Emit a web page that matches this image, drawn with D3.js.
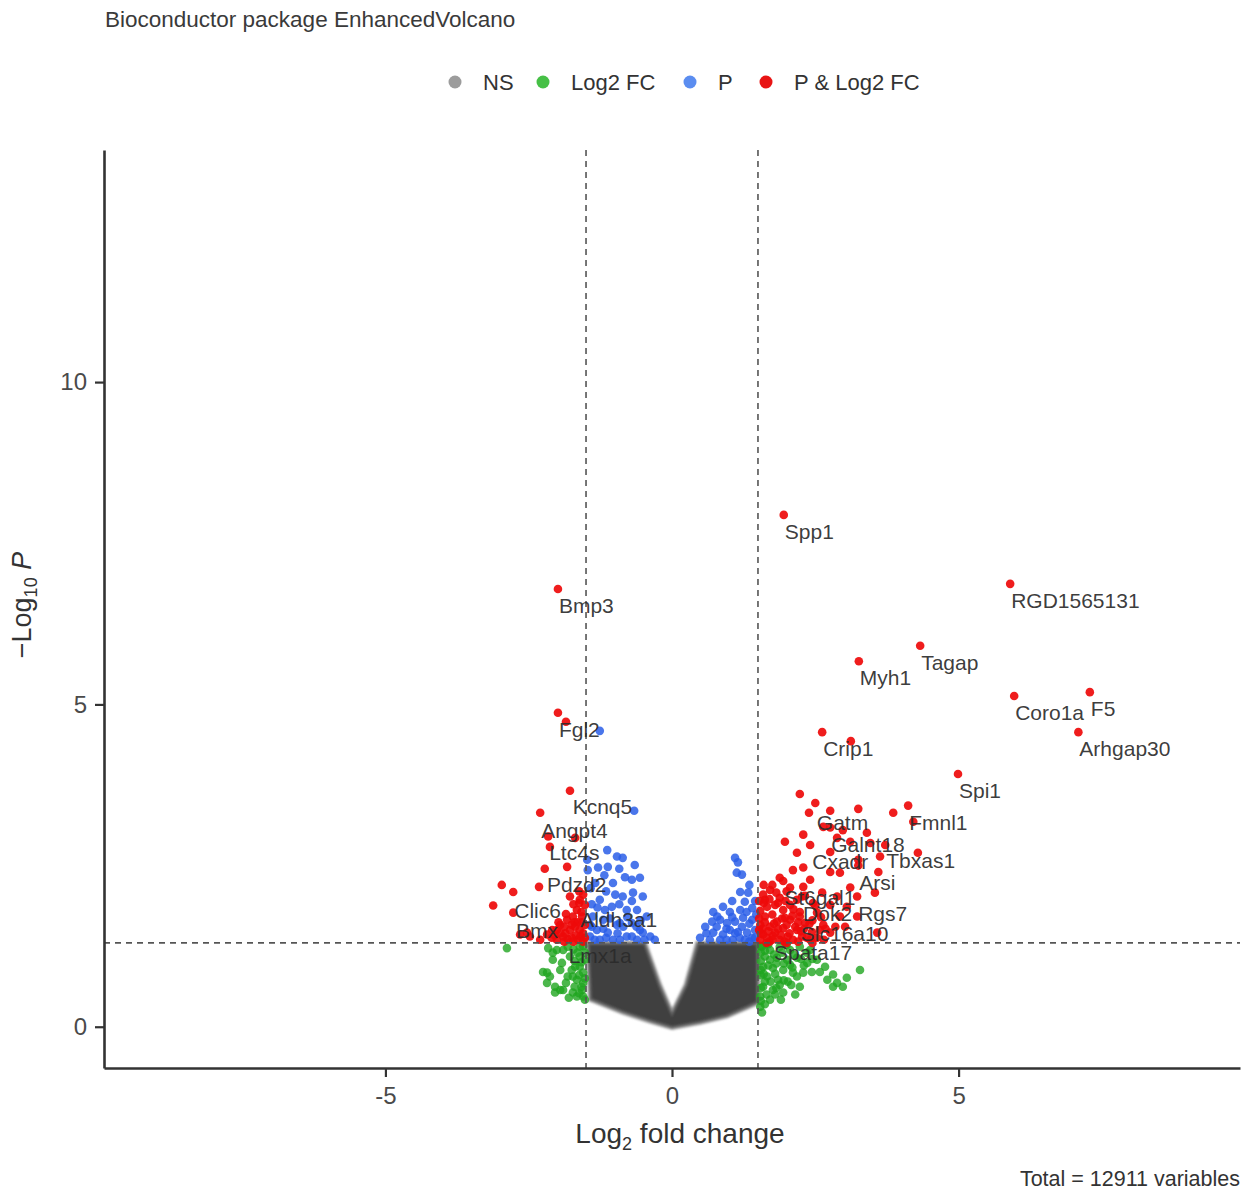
<!DOCTYPE html>
<html>
<head>
<meta charset="utf-8">
<script src="https://cdn.jsdelivr.net/npm/d3@7"></script>
<style>
  body { margin: 0; background: #ffffff; }
  svg text { font-family: "Liberation Sans", Arial, Helvetica, sans-serif; }
</style>
</head>
<body>
<svg id="chart" width="1258" height="1193"></svg>
<script>
// ---- data -------------------------------------------------------------
const xTicks = [-5, 0, 5];
const yTicks = [0, 5, 10];
const fcCutoff = 1.5;          // |log2 fold change| threshold
const pCutoff = 0.05;          // p-value threshold
const totalVariables = 12911;
const legendKeys = ["NS", "Log2 FC", "P", "P & Log2 FC"];

// outline of the dense non-significant cloud [log2FC, -log10 P]
const nsEnvelope = [
  [-1.47, 1.30], [-0.47, 1.30], [-0.21, 0.65], [0.00, 0.22], [0.24, 0.65],
  [0.44, 1.30], [1.50, 1.30], [1.50, 0.37], [0.96, 0.16], [0.49, 0.06],
  [0.00, -0.02], [-0.38, 0.08], [-0.86, 0.22], [-1.43, 0.42]
];

// |log2FC| > 1.5 but P not significant
const log2fcOnly = [
  [-2.88, 1.22], [-2.25, 0.85], [-2.13, 0.78], [-2.18, 0.68], [-2.04, 0.62],
  [-1.95, 0.88], [-1.90, 1.19], [-1.78, 1.09], [-1.69, 0.93], [-1.61, 1.09],
  [-1.82, 0.78], [-1.66, 0.73], [-1.55, 0.84], [-1.90, 0.57], [-1.73, 0.53],
  [-1.57, 0.57], [-2.01, 1.19], [-1.82, 1.24], [-1.61, 1.24], [-1.92, 0.99],
  [-1.55, 0.47], [-2.04, 0.53], [-2.16, 1.22], [-2.08, 1.04], [-2.08, 1.15],
  [-2.18, 0.84], [-1.95, 0.57], [-1.66, 0.47], [-1.73, 0.78], [-1.55, 0.68],
  [-1.61, 0.93], [-1.52, 0.42], [-1.52, 1.04],
  [-1.55, 1.25], [-1.65, 1.15], [-1.72, 1.20], [-1.58, 1.00], [-1.70, 1.02],
  [-1.62, 0.80], [-1.75, 0.88], [-1.58, 0.62], [-1.70, 0.62], [-1.85, 0.68],
  [-1.62, 0.52], [-1.80, 0.45], [-1.52, 0.75], [-1.52, 1.15],
  [1.57, 1.24], [1.71, 1.19], [1.88, 1.24], [2.06, 1.19], [2.23, 1.24],
  [2.41, 1.19], [1.62, 1.09], [1.83, 1.07], [2.01, 1.04], [2.18, 1.07],
  [2.36, 0.99], [2.53, 1.04], [1.59, 0.93], [1.76, 0.91], [1.94, 0.88],
  [2.11, 0.84], [2.29, 0.84], [1.66, 0.78], [1.85, 0.73], [2.02, 0.70],
  [2.23, 0.62], [1.59, 0.62], [1.76, 0.57], [1.94, 0.53], [2.15, 0.50],
  [1.54, 0.47], [1.71, 0.42], [1.54, 0.31], [2.44, 0.85], [2.58, 0.85],
  [2.81, 0.81], [3.05, 0.76], [3.28, 0.88], [2.88, 0.68], [2.98, 0.62],
  [2.71, 0.73], [2.81, 0.62], [2.18, 0.78], [2.67, 0.93], [1.57, 0.22],
  [1.80, 0.50], [1.71, 1.04], [1.88, 0.65], [2.06, 0.96], [1.55, 1.15],
  [1.55, 0.80],
  [1.55, 1.25], [1.62, 1.18], [1.68, 1.28], [1.78, 1.12], [1.92, 1.15],
  [2.00, 1.27], [2.12, 1.12], [2.25, 1.05], [1.55, 1.02], [1.68, 0.95],
  [1.82, 0.98], [1.95, 0.98], [2.10, 0.92], [1.55, 0.88], [1.62, 0.70],
  [1.72, 0.70], [1.80, 0.82], [1.95, 0.72], [2.08, 0.65], [1.55, 0.60],
  [1.65, 0.50], [1.82, 0.60], [1.90, 0.42], [1.55, 0.40], [1.62, 0.35],
  [1.60, 0.82], [2.35, 1.15], [2.45, 1.05], [2.30, 0.95]
];

// P significant but |log2FC| <= 1.5
const pOnly = [
  [-1.26, 4.59], [-0.66, 3.35], [-1.13, 2.74], [-0.96, 2.64], [-1.29, 2.47],
  [-1.12, 2.48], [-0.86, 2.62], [-0.65, 2.51], [-0.70, 2.28], [-0.56, 2.31],
  [-1.34, 2.23], [-1.03, 2.23], [-0.86, 2.02], [-0.68, 2.08], [-0.51, 2.02],
  [-1.26, 1.97], [-1.05, 1.86], [-0.79, 1.81], [-0.61, 1.81], [-0.44, 1.71],
  [-1.38, 1.71], [-1.20, 1.66], [-0.91, 1.61], [-0.70, 1.61], [-0.51, 1.46],
  [-1.31, 1.50], [-1.12, 1.46], [-0.79, 1.40], [-1.43, 1.40], [-0.61, 1.35],
  [-0.38, 1.40], [-1.03, 1.35], [-1.26, 1.35], [-1.48, 2.59], [-1.47, 2.43],
  [-0.96, 1.58], [-1.17, 1.81], [-1.43, 1.58], [-0.30, 1.35], [-0.91, 1.35],
  [-0.56, 1.50], [-0.99, 2.05], [-1.40, 1.90], [-1.15, 2.10],
  [-1.35, 1.35], [-1.15, 1.38], [-0.95, 1.45], [-0.70, 1.40], [-0.48, 1.35],
  [-1.20, 1.52], [-0.85, 1.55], [-0.62, 1.55], [-1.08, 1.68], [-0.78, 1.70],
  [-0.55, 1.65], [-1.30, 1.85], [-0.92, 1.90], [-0.70, 1.95], [-1.40, 1.55],
  [-1.42, 2.15], [-1.18, 2.35], [-0.82, 2.32], [-0.92, 2.45],
  [1.10, 2.62], [1.13, 2.39], [1.22, 2.36], [1.19, 2.09], [1.33, 2.08],
  [1.27, 1.94], [0.72, 1.78], [0.89, 1.86], [1.01, 1.78], [1.19, 1.81],
  [1.40, 1.84], [0.58, 1.55], [0.70, 1.63], [0.84, 1.66], [0.96, 1.61],
  [1.10, 1.63], [1.24, 1.69], [1.40, 1.66], [0.72, 1.46], [0.89, 1.43],
  [1.01, 1.50], [1.15, 1.47], [1.31, 1.46], [1.45, 1.50], [0.66, 1.35],
  [0.84, 1.35], [1.06, 1.35], [1.27, 1.35], [1.40, 1.38], [0.79, 1.71],
  [1.47, 1.74], [0.49, 1.38],
  [0.60, 1.45], [0.78, 1.55], [0.95, 1.52], [1.10, 1.45], [1.22, 1.55],
  [1.35, 1.60], [0.95, 1.35], [1.18, 1.38], [1.35, 1.32], [1.45, 1.38],
  [1.05, 1.70], [1.30, 1.78], [1.45, 1.95], [1.05, 1.95], [1.35, 2.20],
  [1.15, 2.55]
];

// P significant and |log2FC| > 1.5
const pAndLog2fc = [
  [-1.99, 6.79], [-1.99, 4.87], [-1.85, 4.73], [-1.78, 3.66], [-2.30, 3.32],
  [-2.16, 2.95], [-1.69, 2.93], [-2.13, 2.79], [-2.22, 2.45], [-1.83, 2.48],
  [-2.97, 2.20], [-2.77, 2.09], [-2.32, 2.17], [-3.12, 1.88], [-2.77, 1.77],
  [-2.53, 1.46], [-1.78, 2.02], [-1.61, 1.97], [-1.66, 1.81], [-1.83, 1.66],
  [-1.95, 1.58], [-1.69, 1.55], [-1.61, 1.50], [-1.90, 1.40], [-1.64, 1.35],
  [-2.18, 1.43], [-2.09, 1.50], [-1.57, 1.71], [-1.73, 1.71], [-1.62, 1.92],
  [-1.82, 1.36], [-1.52, 1.89], [-1.52, 1.58], [-1.52, 1.38], [-1.78, 1.50],
  [-2.01, 1.35], [-2.30, 1.35], [-2.48, 1.40], [-2.65, 1.43], [-2.01, 1.50],
  [-1.57, 1.62], [-1.70, 1.62],
  [-1.55, 1.45], [-1.60, 1.40], [-1.68, 1.42], [-1.75, 1.38], [-1.86, 1.45],
  [-1.58, 1.78], [-1.65, 1.62], [-1.75, 1.58], [-1.88, 1.55], [-1.55, 2.05],
  [-1.62, 2.10], [-1.72, 1.90], [-1.85, 1.75], [-1.95, 1.45], [-2.05, 1.42],
  [-2.10, 1.38], [-1.98, 1.62], [-1.55, 1.32], [-1.72, 1.32], [-1.88, 1.32],
  [1.95, 7.94], [5.90, 6.87], [4.33, 5.91], [3.26, 5.67], [5.97, 5.13],
  [7.29, 5.19], [7.09, 4.57], [2.62, 4.57], [3.12, 4.43], [4.99, 3.92],
  [2.23, 3.61], [2.50, 3.47], [2.39, 3.32], [2.76, 3.35], [3.25, 3.38],
  [3.86, 3.32], [4.12, 3.43], [2.64, 3.10], [2.98, 3.05], [3.40, 3.01],
  [4.21, 3.18], [1.97, 2.87], [2.29, 2.98], [2.41, 2.82], [2.88, 2.93],
  [3.11, 2.87], [3.46, 2.85], [3.72, 2.82], [4.29, 2.70], [2.18, 2.70],
  [2.76, 2.71], [3.25, 2.59], [3.63, 2.64], [2.11, 2.43], [2.29, 2.47],
  [1.88, 2.31], [2.41, 2.28], [2.76, 2.40], [2.93, 2.39], [3.60, 2.40],
  [1.75, 2.20], [2.06, 2.16], [2.29, 2.17], [3.11, 2.16], [2.62, 2.08],
  [2.88, 2.02], [3.54, 2.08], [1.59, 2.05], [1.88, 2.00], [2.18, 1.97],
  [2.46, 1.92], [2.76, 1.89], [3.05, 1.86], [1.66, 1.86], [1.94, 1.81],
  [2.23, 1.78], [2.53, 1.77], [2.93, 1.71], [3.23, 1.71], [1.62, 1.71],
  [1.83, 1.63], [2.06, 1.66], [2.32, 1.61], [2.64, 1.58], [1.71, 1.55],
  [1.94, 1.53], [2.18, 1.50], [2.44, 1.47], [2.76, 1.46], [3.02, 1.55],
  [3.58, 1.46], [1.59, 1.43], [1.80, 1.46], [2.02, 1.40], [2.27, 1.40],
  [2.53, 1.38], [1.66, 1.38], [1.88, 1.35], [2.11, 1.35], [1.54, 1.58],
  [1.75, 1.74], [1.97, 1.69], [2.15, 1.55], [1.54, 1.35], [2.41, 1.35],
  [2.58, 1.50], [1.62, 1.97], [1.80, 1.89], [2.06, 1.89], [2.32, 2.03],
  [1.71, 2.12], [2.76, 3.09], [3.25, 2.50], [1.94, 2.26], [2.27, 2.02],
  [3.23, 2.02], [2.23, 1.71], [1.76, 1.41], [1.54, 1.80], [1.58, 1.52],
  [1.70, 1.32], [1.96, 1.32], [2.40, 1.60],
  [1.55, 1.45], [1.62, 1.62], [1.68, 1.48], [1.75, 1.35], [1.78, 1.60],
  [1.85, 1.52], [1.90, 1.42], [1.92, 1.68], [2.00, 1.58], [2.05, 1.45],
  [2.10, 1.72], [2.20, 1.62], [2.25, 1.48], [2.35, 1.38], [2.30, 1.52],
  [1.60, 1.92], [1.70, 1.98], [1.85, 1.92], [1.98, 1.95], [2.12, 1.82],
  [1.52, 1.50], [1.52, 1.68], [1.52, 1.95], [1.60, 2.20], [1.82, 2.08],
  [2.00, 2.10], [2.45, 1.65], [2.60, 1.70], [2.68, 1.52], [2.85, 1.55],
  [2.50, 1.88], [1.65, 1.30], [2.00, 1.30], [2.20, 1.32], [2.45, 1.30],
  [2.65, 1.35]
];

// labelled genes [log2FC, -log10 P]
const geneNames = ["Spp1", "RGD1565131", "Tagap", "Myh1", "Coro1a", "F5", "Arhgap30",
  "Crip1", "Spi1", "Bmp3", "Fgl2", "Gatm", "Galnt18", "Fmnl1", "Cxadr", "Tbxas1",
  "Arsi", "St6gal1", "Dok2", "Rgs7", "Slc16a10", "Spata17", "Kcnq5", "Angpt4",
  "Ltc4s", "Pdzd2", "Clic6", "Bmx", "Aldh3a1", "Lmx1a"];
const geneX = [1.95, 5.90, 4.33, 3.26, 5.97, 7.29, 7.09, 2.62, 4.99, -1.99, -1.99,
  2.51, 2.76, 4.12, 2.43, 3.72, 3.25, 1.94, 2.27, 3.23, 2.23, 1.76, -1.75, -2.30,
  -2.16, -2.20, -2.77, -2.74, -1.62, -1.82];
const geneY = [7.94, 6.87, 5.91, 5.67, 5.13, 5.19, 4.57, 4.57, 3.92, 6.79, 4.87,
  3.43, 3.09, 3.43, 2.82, 2.84, 2.50, 2.26, 2.02, 2.02, 1.71, 1.41, 3.67, 3.30,
  2.96, 2.47, 2.06, 1.75, 1.92, 1.36];

// ---- layout -------------------------------------------------------------
const svg = d3.select("#chart");
const x = d3.scaleLinear().domain([-9.91, 9.91]).range([104, 1240]);
const y = d3.scaleLinear().domain([-0.64, 13.6]).range([1068, 150]);

const colours = {
  "NS": "#404040",
  "Log2 FC": "#1fa51f",
  "P": "#2a5ee8",
  "P & Log2 FC": "#ee0a0a"
};
const legendColours = ["#9c9c9c", "#46c046", "#5b8df0", "#e81414"];

// title
svg.append("text")
  .attr("x", 105).attr("y", 27)
  .attr("font-size", 22.5).attr("fill", "#3a3a3a")
  .text("Bioconductor package EnhancedVolcano");

// legend
const legendX = [455, 543, 690, 766];
const legend = svg.append("g").attr("class", "legend");
legendKeys.forEach((k, i) => {
  legend.append("circle")
    .attr("cx", legendX[i]).attr("cy", 82).attr("r", 6.5)
    .attr("fill", legendColours[i]);
  legend.append("text")
    .attr("x", legendX[i] + 28).attr("y", 89.5)
    .attr("font-size", 22).attr("fill", "#333")
    .text(k);
});

// soft-edge filter for the dense cloud
const defs = svg.append("defs");
defs.append("filter").attr("id", "soft")
  .append("feGaussianBlur").attr("stdDeviation", 1.2);

const plot = svg.append("g");

// non-significant cloud
plot.append("path")
  .datum(nsEnvelope)
  .attr("d", d3.line().x(d => x(d[0])).y(d => y(d[1])).curve(d3.curveLinearClosed))
  .attr("fill", colours["NS"])
  .attr("stroke", "#6a6a6a").attr("stroke-width", 4).attr("stroke-opacity", 0.7)
  .attr("filter", "url(#soft)");

function drawPoints(data, colour, opacity) {
  plot.append("g").selectAll("circle").data(data).join("circle")
    .attr("cx", d => x(d[0])).attr("cy", d => y(d[1]))
    .attr("r", 4.3)
    .attr("fill", colour).attr("fill-opacity", opacity);
}
drawPoints(log2fcOnly, colours["Log2 FC"], 0.8);
drawPoints(pOnly, colours["P"], 0.85);
drawPoints(pAndLog2fc, colours["P & Log2 FC"], 0.92);

// cut-off lines
const dash = "6,5";
[-fcCutoff, fcCutoff].forEach(v => {
  plot.append("line")
    .attr("x1", x(v)).attr("x2", x(v))
    .attr("y1", y(13.6)).attr("y2", y(-0.64))
    .attr("stroke", "#555").attr("stroke-width", 1.6).attr("stroke-dasharray", dash);
});
plot.append("line")
  .attr("x1", x(-9.91)).attr("x2", x(9.91))
  .attr("y1", y(-Math.log10(pCutoff))).attr("y2", y(-Math.log10(pCutoff)))
  .attr("stroke", "#555").attr("stroke-width", 1.6).attr("stroke-dasharray", dash);

// gene labels
const labels = plot.append("g");
geneNames.forEach((g, i) => {
  labels.append("text")
    .attr("x", x(geneX[i]) + 1).attr("y", y(geneY[i]) + 24)
    .attr("font-size", 21).attr("fill", "#2b2b2b").attr("fill-opacity", 0.92)
    .text(g);
});

// axes
const fmt = d => String(d);
const xAxis = svg.append("g").attr("transform", "translate(0,1068)")
  .call(d3.axisBottom(x).tickValues(xTicks).tickFormat(fmt).tickSize(9).tickSizeOuter(0).tickPadding(10));
const yAxis = svg.append("g").attr("transform", "translate(104,0)")
  .call(d3.axisLeft(y).tickValues(yTicks).tickFormat(fmt).tickSize(9).tickSizeOuter(0).tickPadding(8));
[xAxis, yAxis].forEach(a => {
  a.select(".domain").attr("stroke", "#333").attr("stroke-width", 2.6);
  a.selectAll(".tick line").attr("stroke", "#333").attr("stroke-width", 2.2);
  a.selectAll(".tick text").attr("font-size", 24).attr("fill", "#4a4a4a")
    .attr("font-family", "'Liberation Sans', Arial, sans-serif");
});

// axis titles
const xt = svg.append("text")
  .attr("x", 680).attr("y", 1143).attr("text-anchor", "middle")
  .attr("font-size", 28).attr("fill", "#333");
xt.append("tspan").text("Log");
xt.append("tspan").attr("font-size", 18).attr("dy", 7).text("2");
xt.append("tspan").attr("dy", -7).text("  fold change");

const yt = svg.append("text")
  .attr("transform", "translate(31,605) rotate(-90)")
  .attr("text-anchor", "middle")
  .attr("font-size", 27).attr("fill", "#333");
yt.append("tspan").text("\u2212Log");
yt.append("tspan").attr("font-size", 18).attr("dy", 6).text("10");
yt.append("tspan").attr("dy", -6).text(" ");
yt.append("tspan").attr("font-style", "italic").text("P");

// caption
svg.append("text")
  .attr("x", 1240).attr("y", 1186).attr("text-anchor", "end")
  .attr("font-size", 21.5).attr("fill", "#333")
  .text(`Total = ${totalVariables} variables`);
</script>
</body>
</html>
